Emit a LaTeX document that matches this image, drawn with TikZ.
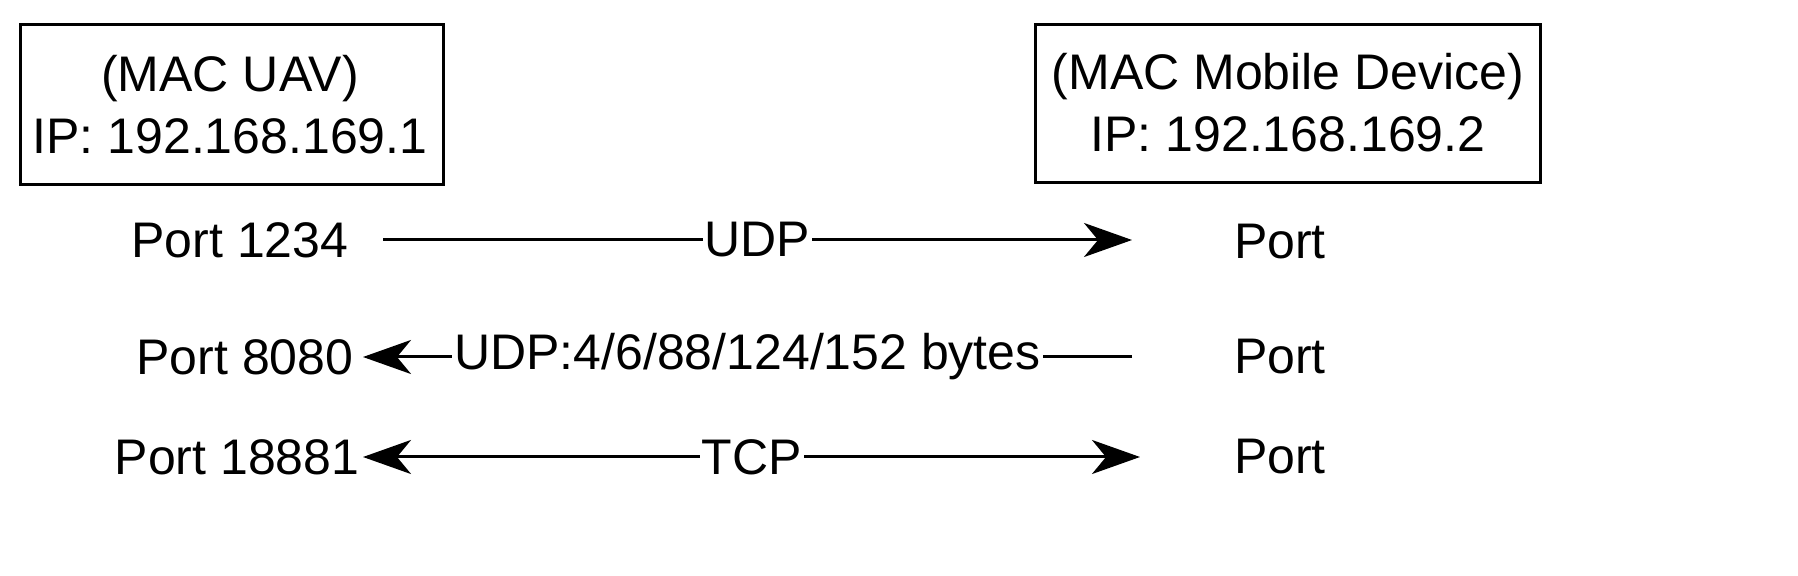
\documentclass[tikz,border=0pt]{standalone}
\usepackage{fontspec}
\setmainfont{Liberation Sans}
\usetikzlibrary{arrows.meta}
\begin{document}
\begin{tikzpicture}[x=0.5pt,y=-0.5pt,
  txt/.style={font=\fontsize{25}{31}\selectfont, inner sep=0pt},
  lbl/.style={txt, fill=white, inner sep=1pt},
  tip/.tip={Stealth[length=24pt,width=17pt,inset=7pt]},
  conn/.style={line width=1.5pt, -tip},
  box/.style={draw, line width=1.5pt}]
\useasboundingbox (0,0) rectangle (1798,576);
\draw[box] (20,25) rectangle (443,185);
\node[txt,align=center] (uav) at (230,105) {(MAC UAV)\\IP: 192.168.169.1};
\draw[box] (1035,25) rectangle (1540,183);
\node[txt,align=center] (mob) at (1288,103) {(MAC Mobile Device)\\IP: 192.168.169.2};
\node[txt] (p1) at (240,240) {Port 1234};
\node[txt] (p2) at (245,357) {Port 8080};
\node[txt] (p3) at (237,457) {Port 18881};
\node[txt] (q1) at (1280,242) {Port};
\node[txt] (q2) at (1280,357) {Port};
\node[txt] (q3) at (1280,457) {Port};
\coordinate (a1) at (383,240); \coordinate (b1) at (1132,240);
\coordinate (a2) at (363,357); \coordinate (b2) at (1132,357);
\coordinate (a3) at (363,457); \coordinate (b3) at (1140,457);
\draw[conn] (a1) -- node[lbl]{UDP} (b1);
\draw[conn] (b2) -- node[lbl]{UDP:4/6/88/124/152 bytes} (a2);
\draw[conn,tip-tip] (a3) -- node[lbl]{TCP} (b3);
\end{tikzpicture}
\end{document}
